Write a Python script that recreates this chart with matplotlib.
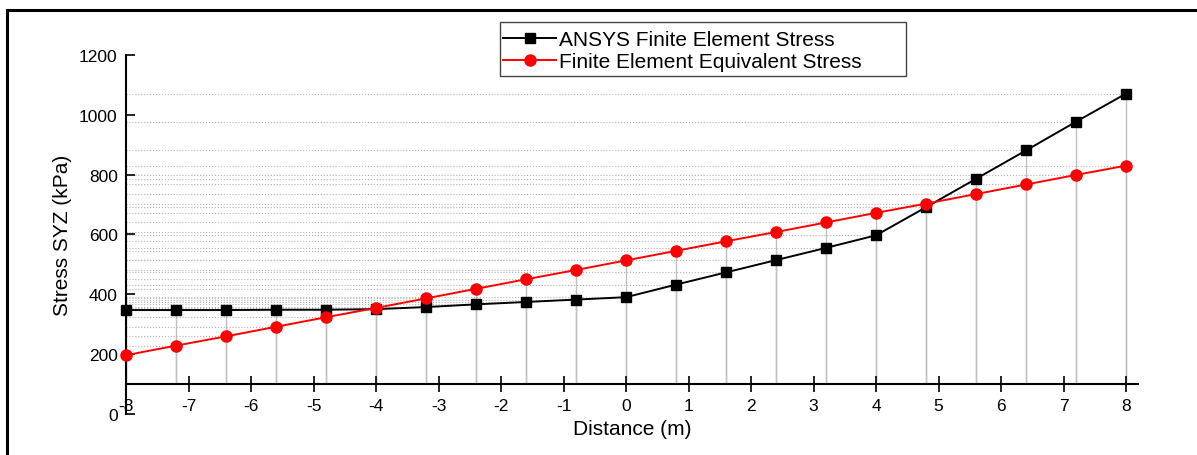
import matplotlib
matplotlib.use('Agg')
import matplotlib.pyplot as plt
from matplotlib.patches import Rectangle
import numpy as np

plt.rcParams['font.family'] = ['Liberation Sans', 'DejaVu Sans']
plt.rcParams['axes.unicode_minus'] = False

# datos
distancia = [-8, -7.2, -6.4, -5.6, -4.8, -4, -3.2, -2.4, -1.6, -0.8, 0,
             0.8, 1.6, 2.4, 3.2, 4, 4.8, 5.6, 6.4, 7.2, 8]
ansys = [347, 347, 347, 348, 348, 350, 357, 366, 374, 382, 390,
         432, 473, 514, 555, 597, 691, 786, 881, 977, 1071]
equivalente = [196, 228, 259, 291, 323, 354, 386, 418, 450, 481, 513,
               545, 577, 608, 640, 672, 703, 735, 767, 799, 830]
etiquetas = ['ANSYS Finite Element Stress', 'Finite Element Equivalent Stress']
xticks = list(range(-8, 9))
yticks = list(range(0, 1201, 200))

W, H = 1197, 456
fig = plt.figure(figsize=(W / 100, H / 100), dpi=100)
ax = fig.add_axes([126 / W, (H - 414.8) / H, (1138 - 126) / W, (414.8 - 56) / H])

# lineas de referencia (horizontales punteadas y verticales hasta el eje)
for serie in (ansys, equivalente):
    ax.hlines(serie, -8, distancia, colors='#b4b4b4', linestyles=':', linewidth=0.8, zorder=1)
    ax.vlines(distancia, 100, serie, colors='#c0c0c0', linewidth=1.0, zorder=1)

ax.plot(distancia, ansys, 's-', color='black', markersize=6.5, linewidth=1.4,
        label=etiquetas[0], zorder=3, clip_on=False)
ax.plot(distancia, equivalente, 'o-', color='red', markersize=8, linewidth=1.4,
        label=etiquetas[1], zorder=4, clip_on=False)

ax.set_xlim(-8, 8.19)
ax.set_ylim(0, 1200)
ax.set_xticks(xticks)
ax.set_yticks(yticks)

ax.spines['top'].set_visible(False)
ax.spines['right'].set_visible(False)
ax.spines['bottom'].set_position(('data', 100))
ax.spines['bottom'].set_linewidth(1.5)
ax.spines['left'].set_linewidth(1.5)
ax.tick_params(axis='x', direction='inout', length=11, width=1.2, pad=5, labelsize=12.5)
ax.tick_params(axis='y', direction='in', length=6.5, width=1.2, pad=6, labelsize=12.5)

ax.set_xlabel('Distance (m)', fontsize=15, labelpad=4)
ax.set_ylabel('Stress SYZ (kPa)', fontsize=15, labelpad=5)

leg = ax.legend(loc='upper left', bbox_to_anchor=(500 / W, 1 - 28 / H),
                bbox_transform=fig.transFigure, frameon=False, fontsize=15,
                numpoints=1, handlelength=2.55, handletextpad=0.15,
                borderpad=0.15, labelspacing=0.15, borderaxespad=0)
fig.patches.append(Rectangle((500 / W, 1 - 77 / H), 406 / W, 54 / H,
                             transform=fig.transFigure, fill=False,
                             edgecolor='#444444', linewidth=1.0))

# marco exterior (solo izquierda y arriba visibles)
fig.add_artist(plt.Line2D([7 / W, 7 / W], [0, 1 - 11 / H], transform=fig.transFigure,
                          color='black', linewidth=2.2))
fig.add_artist(plt.Line2D([7 / W, 1], [1 - 11 / H, 1 - 11 / H], transform=fig.transFigure,
                          color='black', linewidth=2.2))

fig.savefig('out.png', dpi=100)
